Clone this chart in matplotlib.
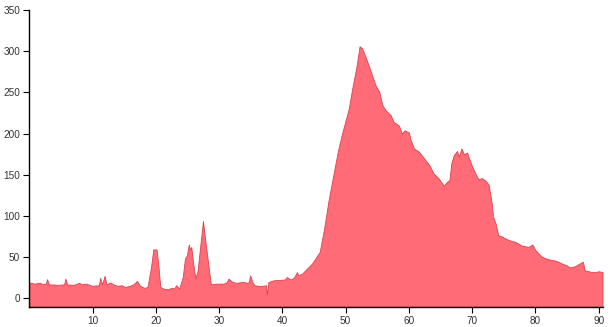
import matplotlib
matplotlib.use("Agg")
from matplotlib import pyplot as plt

# values
x = [0.0, 0.8, 1.6, 2.1, 2.6, 2.8, 3.1, 3.7, 4.5, 5.3, 5.5, 5.7, 6.0, 7.0, 7.9, 8.2,
     9.0, 9.9, 10.9, 11.0, 11.2, 11.5, 11.9, 12.2, 12.8, 13.3, 13.9, 14.6, 15.1, 15.9,
     16.6, 17.0, 17.5, 18.2, 18.7, 18.9, 19.2, 19.6, 20.1, 20.4, 20.7, 21.2, 21.9, 22.5,
     22.9, 23.2, 23.7, 24.25, 24.6, 24.9, 25.2, 25.4, 25.6, 25.9, 26.25, 26.6, 27.0,
     27.45, 27.8, 28.2, 28.7, 29.7, 30.6, 31.1, 31.5, 32.1, 32.7, 33.7, 34.5, 34.7,
     34.9, 35.3, 35.6, 36.5, 37.4, 37.55, 37.8, 38.6, 39.6, 40.4, 40.7, 41.3, 41.8,
     42.3, 42.5, 43.1, 43.6, 44.7, 45.9, 46.6, 47.3, 47.9, 48.8, 49.5, 50.5, 51.0,
     51.7, 52.2, 52.6, 53.15, 53.9, 54.7, 55.3, 55.8, 56.3, 57.1, 57.6, 58.4, 58.9,
     59.3, 60.0, 60.2, 60.8, 61.6, 62.4, 63.2, 63.9, 64.7, 65.5, 66.0, 66.4, 66.7,
     67.1, 67.6, 67.9, 68.3, 68.7, 69.2, 69.5, 70.0, 70.6, 71.0, 71.5, 72.1, 72.6,
     73.1, 73.3, 73.7, 74.1, 74.7, 75.8, 76.8, 77.9, 78.9, 79.5, 80.0, 81.0, 82.0,
     83.3, 84.4, 84.9, 85.4, 86.2, 87.0, 87.5, 87.8, 88.8, 89.6, 90.0, 90.6]
y = [19.4, 18, 19, 17.6, 18, 23.4, 17, 17, 16.5, 17, 17, 24, 17, 16.5, 19, 17,
     18, 15.3, 16, 16, 25, 17, 27.4, 17, 19.4, 17, 15.3, 16, 14, 15.3,
     18, 21.4, 15.3, 12.9, 14, 24, 36, 59.5, 59.5, 40, 14, 12, 11, 13,
     12, 16, 12, 26, 48.5, 52, 65.5, 59, 62.5, 42.5, 24, 34, 62.6,
     94, 71, 46.5, 17, 18, 18, 19, 24, 20, 19, 20, 19, 20,
     28, 19, 16, 15, 16, 5, 20, 22, 22.5, 23, 26, 23, 25,
     32, 28, 30, 34, 42.5, 56.6, 85, 119, 143.6, 180, 202, 230.6, 253,
     281, 306, 303.5, 293, 277, 259, 251, 234.6, 228.5, 222.5, 214, 210, 200,
     204, 201.5, 194, 182, 178, 170, 162, 151.7, 145.6, 136.7, 141.5, 143.6, 164,
     174, 179, 172, 182, 175, 177, 170, 160, 150, 144.5, 146, 143, 138,
     115, 99, 91, 77, 75, 70.8, 68.7, 64, 62.6, 65.5, 58.6, 50.5, 47.7,
     45.6, 41.6, 40.4, 37.6, 39, 42.5, 44.5, 34, 32.3, 32.3, 33, 32]
y_ticks = [0, 50, 100, 150, 200, 250, 300, 350]
x_ticks = [10, 20, 30, 40, 50, 60, 70, 80, 90]

plt.rcParams['font.family'] = ['Liberation Sans', 'DejaVu Sans']

fig = plt.figure(figsize=(6.12, 3.27), dpi=100)
ax = fig.add_axes([0.0479, 0.0621, 0.9366, 0.9073])

ax.fill_between(x, y, -10, facecolor='#ff6b76', edgecolor='#d9434f', linewidth=0.6)

ax.set_xlim(0, 90.6)
ax.set_ylim(-10, 350)
ax.set_xticks(x_ticks)
ax.set_yticks(y_ticks)

for side in ['top', 'right']:
    ax.spines[side].set_visible(False)
for side in ['left', 'bottom']:
    ax.spines[side].set_color('black')
    ax.spines[side].set_linewidth(1.0)

ax.tick_params(axis='both', length=4.3, width=0.8, color='black',
               labelsize=7.2, labelcolor='#333333', pad=2.2)

fig.savefig('out.png', dpi=100)
